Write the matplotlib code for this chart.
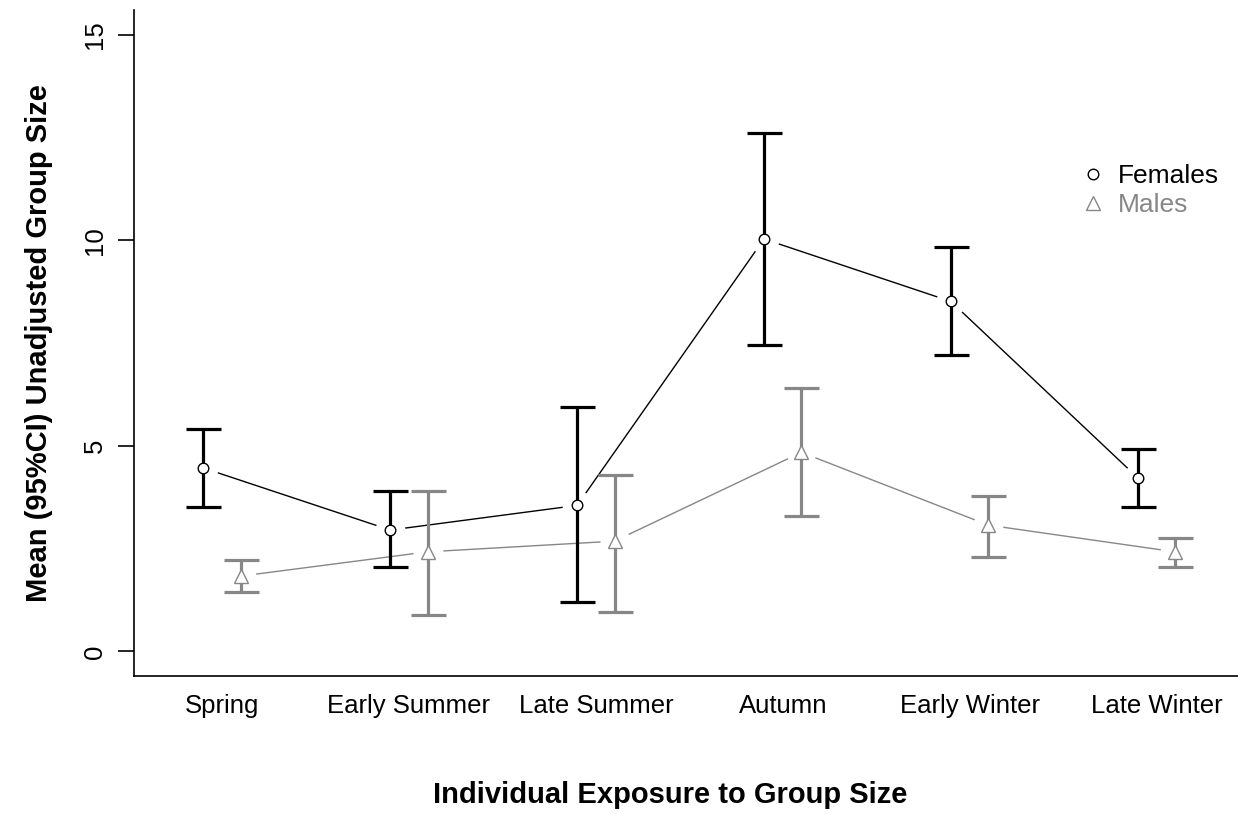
import numpy as np
import matplotlib
matplotlib.use("Agg")
import matplotlib.pyplot as plt
from matplotlib.lines import Line2D

plt.rcParams['font.family'] = ['Liberation Sans', 'DejaVu Sans']

seasons = ["Spring", "Early Summer", "Late Summer", "Autumn", "Early Winter", "Late Winter"]
female_mean = [4.46, 2.95, 3.55, 10.03, 8.51, 4.22]
female_upper = [5.41, 3.90, 5.95, 12.60, 9.84, 4.91]
female_lower = [3.52, 2.05, 1.20, 7.45, 7.21, 3.52]
male_mean = [1.83, 2.42, 2.68, 4.84, 3.07, 2.42]
male_upper = [2.22, 3.90, 4.30, 6.40, 3.77, 2.75]
male_lower = [1.44, 0.88, 0.96, 3.28, 2.30, 2.05]
yticks = [0, 5, 10, 15]

GRAY = '#878787'
FS_TICK = 18.5
FS_LAB = 21
FS_LEG = 19

fig = plt.figure(figsize=(12.38, 8.14), dpi=100)
ax = fig.add_axes([134/1238, 1 - 676/814, 1 - 134/1238, (676 - 10)/814])

x = np.arange(1, len(seasons) + 1)
xf = x - 0.1
xm = x + 0.1

def draw(xs, mean, lower, upper, color, marker, ms, lw_line):
    mean = np.array(mean); lower = np.array(lower); upper = np.array(upper)
    ax.plot(xs, mean, color=color, lw=lw_line, zorder=1)
    # white gaps around the points (R type="b")
    ax.plot(xs, mean, ls='none', marker='o', ms=21.5, mfc='white', mec='none', zorder=2)
    ax.errorbar(xs, mean, yerr=[mean - lower, upper - mean], fmt='none',
                ecolor=color, elinewidth=2.3, capsize=12.6, capthick=2.3, zorder=3)
    ax.plot(xs, mean, ls='none', marker=marker, ms=ms, mfc='white', mec=color,
            mew=1.0, zorder=4)

draw(xf, female_mean, female_lower, female_upper, 'black', 'o', 7.6, 1.0)
draw(xm, male_mean, male_lower, male_upper, GRAY, '^', 10.5, 1.0)

ax.set_xlim(0.529, 6.436)
ax.set_ylim(-0.6, 15.6)
ax.spines['top'].set_visible(False)
ax.spines['right'].set_visible(False)
for s in ('left', 'bottom'):
    ax.spines[s].set_linewidth(1.2)

ax.set_yticks(yticks)
ax.set_yticklabels([str(v) for v in yticks], rotation=90, va='center', fontsize=FS_TICK)
ax.tick_params(axis='y', length=11.5, width=1.2, pad=8)
ax.set_xticks(x)
ax.set_xticklabels(seasons, fontsize=FS_TICK)
ax.tick_params(axis='x', length=0, pad=13)

fig.text(670/1238, 1 - 795/814, "Individual Exposure to Group Size",
         ha='center', va='center', fontsize=FS_LAB, fontweight='bold')
fig.text(39/1238, 1 - 343/814, "Mean (95%CI) Unadjusted Group Size",
         ha='center', va='center', rotation=90, fontsize=FS_LAB, fontweight='bold')

handles = [Line2D([], [], ls='none', marker='o', ms=7.6, mfc='white', mec='black', mew=1.0),
           Line2D([], [], ls='none', marker='^', ms=10.5, mfc='white', mec=GRAY, mew=1.0)]
leg = ax.legend(handles, ["Females", "Males"], loc='upper left',
                bbox_to_anchor=(1080/1238, 1 - 164/814), bbox_transform=fig.transFigure,
                frameon=False, fontsize=FS_LEG, handlelength=1.0, handletextpad=0.45,
                labelspacing=0.2, borderpad=0, borderaxespad=0,
                labelcolor=['black', GRAY])

fig.savefig("out.png", dpi=100)
